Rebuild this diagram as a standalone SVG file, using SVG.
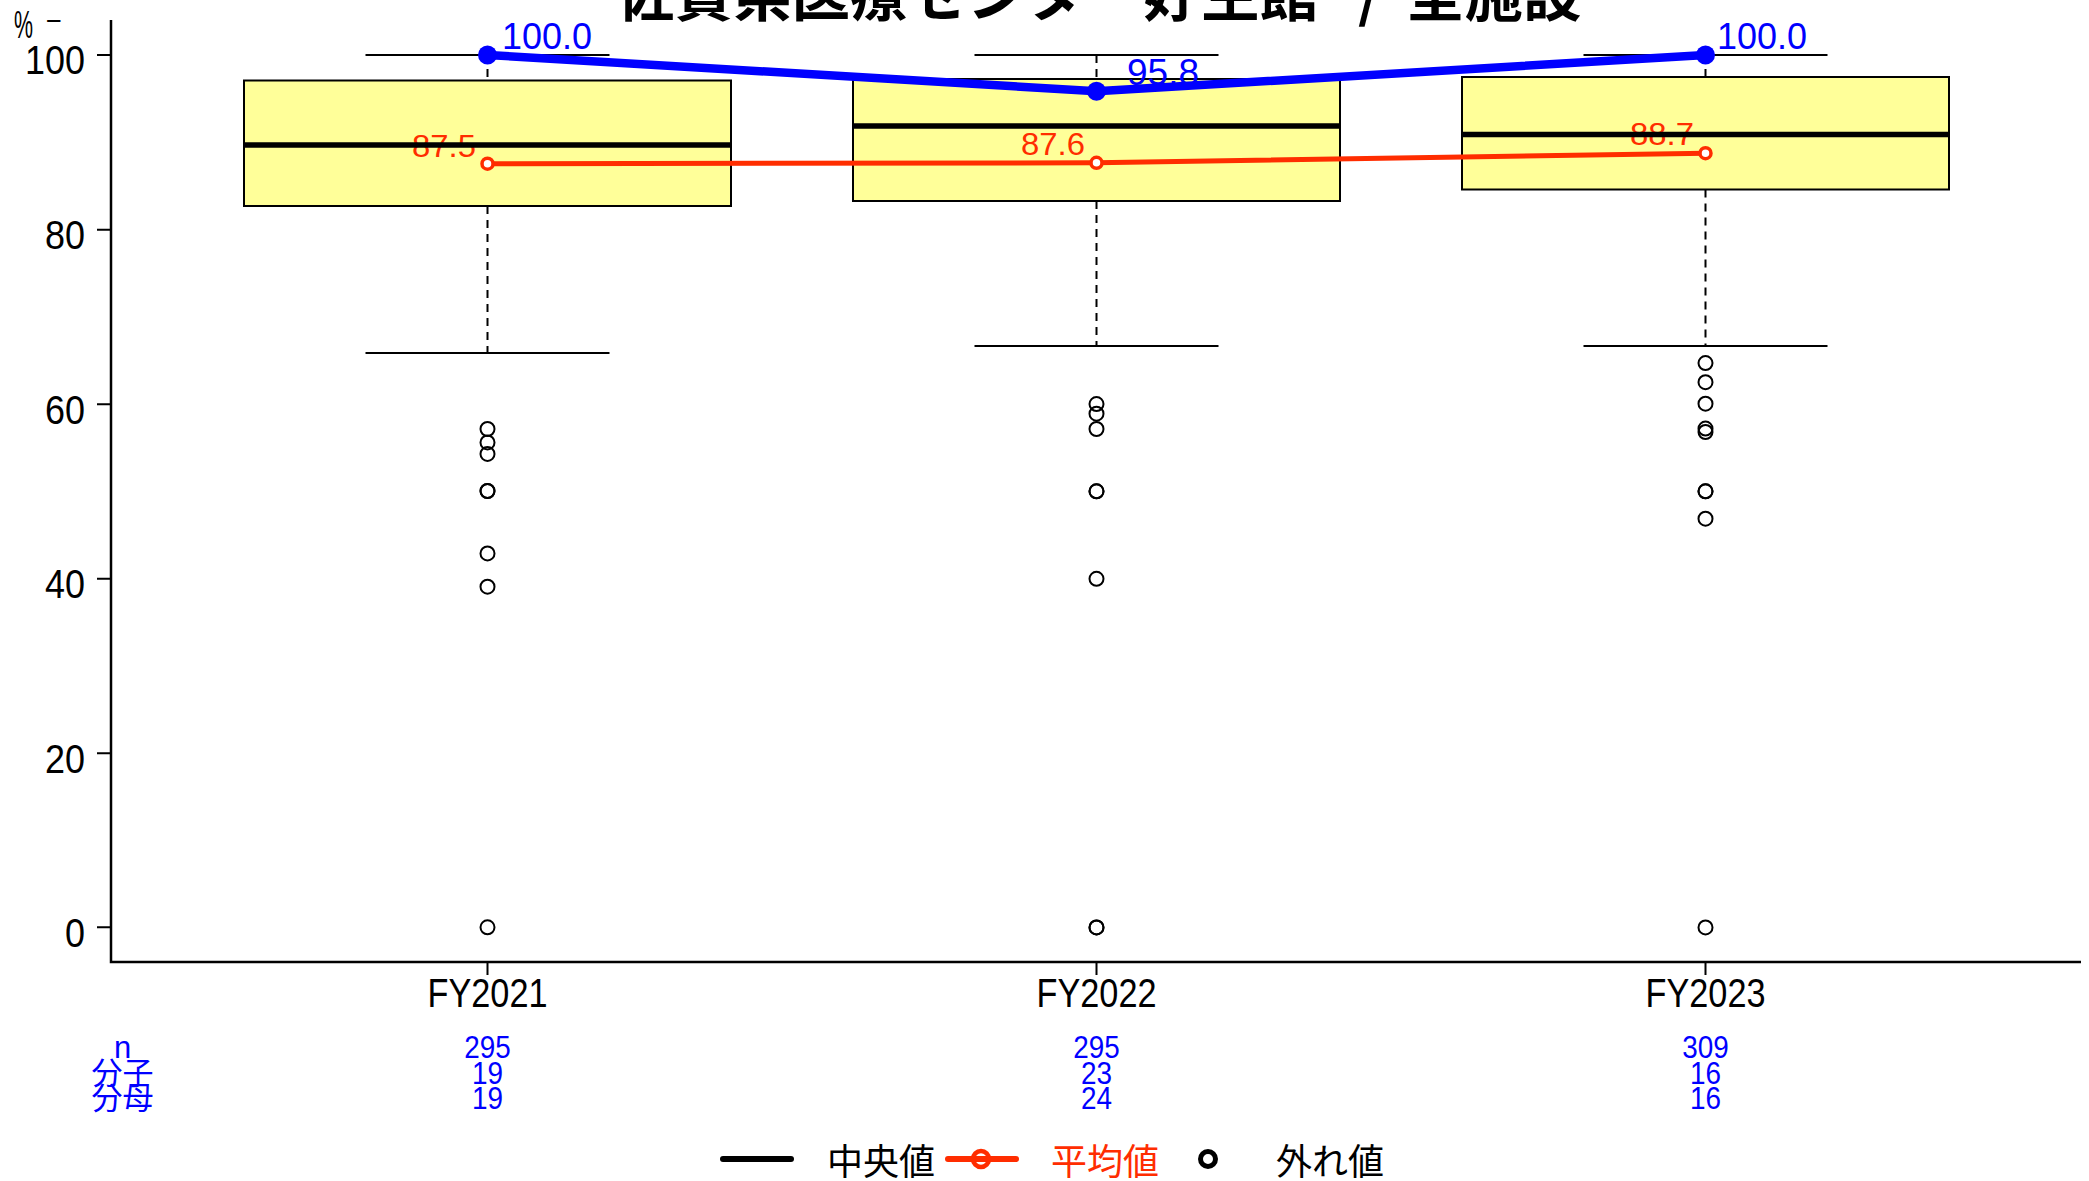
<svg xmlns="http://www.w3.org/2000/svg" width="2089" height="1181" viewBox="0 0 2089 1181">
<style>
.num{font-family:"Liberation Sans",Arial,sans-serif}
.cjk{font-family:"Noto Sans CJK JP",sans-serif}
.box{fill:#FFFF99;stroke:#000;stroke-width:2}
.med{stroke:#000;stroke-width:5.5}
.wh{stroke:#000;stroke-width:2;stroke-dasharray:8 6}
.cap{stroke:#000;stroke-width:2}
.out{fill:none;stroke:#000;stroke-width:2}
.ax{stroke:#000;stroke-width:2.5;fill:none}
.tk{stroke:#000;stroke-width:2}
.blue{fill:#0000FF}
.red{fill:#FF2D00}
</style>
<rect width="2089" height="1181" fill="#fff"/>

<g id="title">
<text class="cjk" font-weight="bold" font-size="58.5" y="16"><tspan x="616">佐賀県医療センター好生館</tspan> <tspan x="1358">/</tspan> <tspan x="1406">全施設</tspan></text>
</g>

<g id="axes">
<path class="ax" d="M111,20 V962 H2081"/>
<path class="tk" d="M97,55 H111 M97,229.8 H111 M97,404.3 H111 M97,578.8 H111 M97,753.3 H111 M97,927.3 H111"/>
<path class="tk" d="M487.5,962 V975 M1096.5,962 V975 M1705.5,962 V975"/>
<g class="num" font-size="40" text-anchor="end">
<text x="85" y="74" textLength="60" lengthAdjust="spacingAndGlyphs">100</text>
<text x="85" y="249" textLength="40" lengthAdjust="spacingAndGlyphs">80</text>
<text x="85" y="424" textLength="40" lengthAdjust="spacingAndGlyphs">60</text>
<text x="85" y="598" textLength="40" lengthAdjust="spacingAndGlyphs">40</text>
<text x="85" y="773" textLength="40" lengthAdjust="spacingAndGlyphs">20</text>
<text x="85" y="946.5" textLength="20" lengthAdjust="spacingAndGlyphs">0</text>
</g>
<text class="num" font-size="38" x="14" y="38" textLength="19" lengthAdjust="spacingAndGlyphs">%</text>
<text class="num" font-size="27" x="46" y="29.5" textLength="16" lengthAdjust="spacingAndGlyphs">−</text>
<g class="num" font-size="40" text-anchor="middle">
<text x="487.5" y="1006.5" textLength="120" lengthAdjust="spacingAndGlyphs">FY2021</text>
<text x="1096.5" y="1006.5" textLength="120" lengthAdjust="spacingAndGlyphs">FY2022</text>
<text x="1705.5" y="1006.5" textLength="120" lengthAdjust="spacingAndGlyphs">FY2023</text>
</g>
</g>

<g id="box-FY2021">
<rect class="box" x="244" y="80.5" width="487" height="125.5"/>
<path class="wh" d="M487.5,55 V80.5 M487.5,206 V353"/>
<path class="cap" d="M365.5,55 H609.5 M365.5,353 H609.5"/>
<g class="out">
<circle cx="487.5" cy="429" r="7"/><circle cx="487.5" cy="442.4" r="7"/><circle cx="487.5" cy="453.9" r="7"/>
<circle cx="487.5" cy="491" r="7"/><circle cx="487.5" cy="491" r="7"/><circle cx="487.5" cy="553.4" r="7"/>
<circle cx="487.5" cy="586.7" r="7"/><circle cx="487.5" cy="927.3" r="7"/>
</g>
</g>

<g id="box-FY2022">
<rect class="box" x="853" y="79" width="487" height="122"/>
<path class="wh" d="M1096.5,55 V79 M1096.5,201 V346"/>
<path class="cap" d="M974.5,55 H1218.5 M974.5,346 H1218.5"/>
<g class="out">
<circle cx="1096.5" cy="404.1" r="7"/><circle cx="1096.5" cy="413.7" r="7"/><circle cx="1096.5" cy="429" r="7"/>
<circle cx="1096.5" cy="491.3" r="7"/><circle cx="1096.5" cy="491.3" r="7"/><circle cx="1096.5" cy="578.8" r="7"/>
<circle cx="1096.5" cy="927.4" r="7"/><circle cx="1096.5" cy="927.4" r="7"/>
</g>
</g>

<g id="box-FY2023">
<rect class="box" x="1462" y="77" width="487" height="112.5"/>
<path class="wh" d="M1705.5,55 V77 M1705.5,189.5 V346"/>
<path class="cap" d="M1583.5,55 H1827.5 M1583.5,346 H1827.5"/>
<g class="out">
<circle cx="1705.5" cy="363.1" r="7"/><circle cx="1705.5" cy="382.2" r="7"/><circle cx="1705.5" cy="403.7" r="7"/>
<circle cx="1705.5" cy="428.6" r="7"/><circle cx="1705.5" cy="432" r="7"/><circle cx="1705.5" cy="491.3" r="7"/>
<circle cx="1705.5" cy="491.3" r="7"/><circle cx="1705.5" cy="518.7" r="7"/><circle cx="1705.5" cy="927.4" r="7"/>
</g>
</g>

<g id="value-labels">
<g class="num red" font-size="32" text-anchor="end">
<text x="476" y="157" textLength="64" lengthAdjust="spacingAndGlyphs">87.5</text>
<text x="1085" y="155" textLength="64" lengthAdjust="spacingAndGlyphs">87.6</text>
<text x="1694" y="145" textLength="64" lengthAdjust="spacingAndGlyphs">88.7</text>
</g>
<g class="num blue" font-size="36">
<text x="502" y="49" textLength="90" lengthAdjust="spacingAndGlyphs">100.0</text>
<text x="1127" y="85" textLength="72" lengthAdjust="spacingAndGlyphs">95.8</text>
<text x="1717" y="49" textLength="90" lengthAdjust="spacingAndGlyphs">100.0</text>
</g>
</g>

<g id="medians">
<path class="med" d="M244,145 H731 M853,126 H1340 M1462,134.5 H1949"/>
</g>

<g id="connectors">
<g id="mean-line">
<polyline points="487.5,163.7 1096.5,162.8 1705.5,153.2" fill="none" stroke="#FF2D00" stroke-width="5"/>
<g fill="#fff" stroke="#FF2D00" stroke-width="3.5">
<circle cx="487.5" cy="163.7" r="5.5"/><circle cx="1096.5" cy="162.8" r="5.5"/><circle cx="1705.5" cy="153.2" r="5.5"/>
</g>
</g>
<g id="max-line">
<polyline points="487.5,55 1096.5,91.2 1705.5,55" fill="none" stroke="#0000FF" stroke-width="8.5"/>
<g fill="#0000FF">
<circle cx="487.5" cy="55" r="9.5"/><circle cx="1096.5" cy="91.2" r="9.5"/><circle cx="1705.5" cy="55" r="9.5"/>
</g>
</g>
</g>

<g id="counts" font-size="31" text-anchor="middle">
<g class="cjk blue">
<text x="122.5" y="1058" class="num">n</text>
<text x="122.5" y="1083.5">分子</text>
<text x="122.5" y="1109">分母</text>
</g>
<g class="num blue">
<text x="487.5" y="1058" textLength="46.5" lengthAdjust="spacingAndGlyphs">295</text>
<text x="487.5" y="1083.5" textLength="31" lengthAdjust="spacingAndGlyphs">19</text>
<text x="487.5" y="1109" textLength="31" lengthAdjust="spacingAndGlyphs">19</text>
<text x="1096.5" y="1058" textLength="46.5" lengthAdjust="spacingAndGlyphs">295</text>
<text x="1096.5" y="1083.5" textLength="31" lengthAdjust="spacingAndGlyphs">23</text>
<text x="1096.5" y="1109" textLength="31" lengthAdjust="spacingAndGlyphs">24</text>
<text x="1705.5" y="1058" textLength="46.5" lengthAdjust="spacingAndGlyphs">309</text>
<text x="1705.5" y="1083.5" textLength="31" lengthAdjust="spacingAndGlyphs">16</text>
<text x="1705.5" y="1109" textLength="31" lengthAdjust="spacingAndGlyphs">16</text>
</g>
</g>

<g id="legend">
<line x1="723" y1="1159" x2="791" y2="1159" stroke="#000" stroke-width="6" stroke-linecap="round"/>
<text class="cjk" font-size="36" x="827" y="1175">中央値</text>
<line x1="948" y1="1159" x2="1016" y2="1159" stroke="#FF2D00" stroke-width="6" stroke-linecap="round"/>
<circle cx="981" cy="1159" r="8" fill="none" stroke="#FF2D00" stroke-width="4.5"/>
<text class="cjk red" font-size="36" x="1051" y="1175">平均値</text>
<circle cx="1208" cy="1159" r="7.5" fill="none" stroke="#000" stroke-width="5"/>
<text class="cjk" font-size="36" x="1276" y="1175">外れ値</text>
</g>
</svg>
